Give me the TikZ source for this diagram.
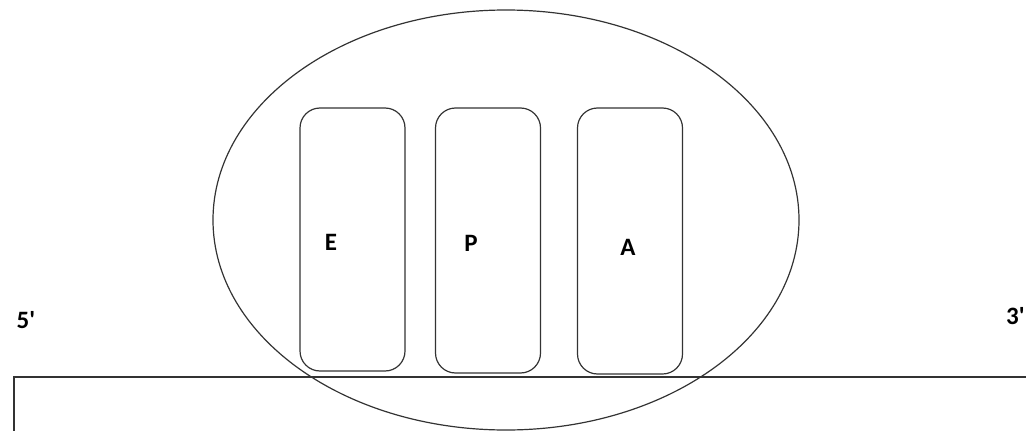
\documentclass[tikz,border=0pt]{standalone}
\usepackage{fontspec}
\setmainfont{Carlito}
\begin{document}
\begin{tikzpicture}[x=1pt,y=-1pt,
  outline/.style={draw=black!80,line width=1.2pt},
  dombox/.style={outline,rounded corners=20pt,minimum width=105pt,inner sep=0pt},
  lbl/.style={font=\fontsize{25}{30}\selectfont\bfseries,inner sep=0pt}]
\useasboundingbox (0,0) rectangle (1026,431);
\begin{scope}
\clip (0,0) rectangle (1026,431);
% strand
\draw[outline] (1040,377) -- (14,377) -- (14,450);
% ellipse
\draw[outline] (506,220) ellipse [x radius=293, y radius=210];
% domains
\node[dombox,minimum height=263pt] (E) at (352.5,239.5) {};
\node[dombox,minimum height=265pt] (P) at (488,240.5) {};
\node[dombox,minimum height=266pt] (A) at (630,241) {};
\node[lbl] (lE) at (331,242) {E};
\node[lbl] (lP) at (471,243) {P};
\node[lbl] (lA) at (628,247) {A};
\node[lbl] (five) at (26,320) {5\textquotesingle};
\node[lbl,anchor=west] (three) at (1006,316) {3\textquotesingle};
\end{scope}
\end{tikzpicture}
\end{document}
